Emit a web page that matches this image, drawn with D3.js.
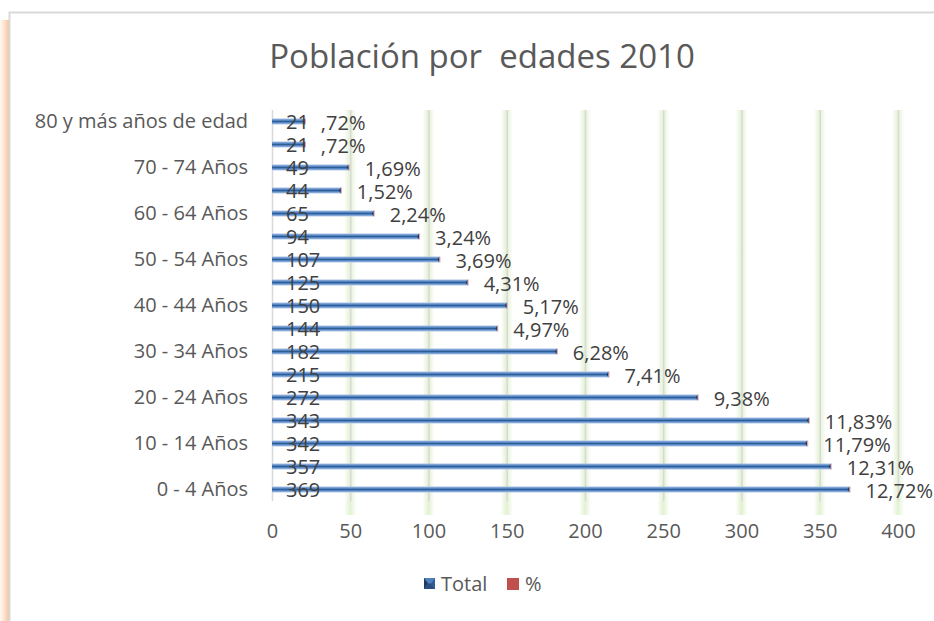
<html>
<head>
<meta http-equiv="Content-Type" content="text/html; charset=utf-8">
<title>Población por edades 2010</title>
<script src="https://cdnjs.cloudflare.com/ajax/libs/d3/7.8.5/d3.min.js"></script>
<style>
body, html{
  margin: 0;
  padding: 0;
  background: white;
  overflow: hidden;
}
text{
  font-family: "Open Sans", sans-serif;
  fill: #595959;
}
.axis text{
  font-size: 20px;
}
.lbl{
  font-size: 20px;
  fill: #404040;
}
</style>
</head>
<body>
<div id="chart"></div>
<script type="text/javascript">

// data, bottom row first
var categories = ["0 - 4 Años", "5 - 9 Años", "10 - 14 Años", "15 - 19 Años", "20 - 24 Años",
  "25 - 29 Años", "30 - 34 Años", "35 - 39 Años", "40 - 44 Años", "45 - 49 Años",
  "50 - 54 Años", "55 - 59 Años", "60 - 64 Años", "65 - 69 Años", "70 - 74 Años",
  "75 - 79 Años", "80 y más años de edad"]
var totals = [369, 357, 342, 343, 272, 215, 182, 144, 150, 125, 107, 94, 65, 44, 49, 21, 21]
var percents = [12.72, 12.31, 11.79, 11.83, 9.38, 7.41, 6.28, 4.97, 5.17, 4.31, 3.69, 3.24, 2.24, 1.52, 1.69, 0.72, 0.72]
var xTicks = [0, 50, 100, 150, 200, 250, 300, 350, 400]
var legendItems = ["Total", "%"]

var W = 934, H = 621
var svg = d3.select("#chart").append("svg")
  .attr("width", W)
  .attr("height", H)

var defs = svg.append("defs")

// orange glow on the left edge of the frame
var og = defs.append("linearGradient").attr("id", "orangeGlow")
og.append("stop").attr("offset", "0%").attr("stop-color", "#fde3cc").attr("stop-opacity", 0.3)
og.append("stop").attr("offset", "100%").attr("stop-color", "#f8b98a").attr("stop-opacity", 0.9)

var gg = defs.append("linearGradient").attr("id", "greenGlow")
gg.append("stop").attr("offset", "0%").attr("stop-color", "#c6e3a4").attr("stop-opacity", 0)
gg.append("stop").attr("offset", "50%").attr("stop-color", "#c6e3a4").attr("stop-opacity", 0.5)
gg.append("stop").attr("offset", "100%").attr("stop-color", "#c6e3a4").attr("stop-opacity", 0)

var bg = defs.append("linearGradient").attr("id", "barGrad")
  .attr("x1", 0).attr("y1", 0).attr("x2", 0).attr("y2", 1)
bg.append("stop").attr("offset", "0%").attr("stop-color", "#a9c1e3")
bg.append("stop").attr("offset", "30%").attr("stop-color", "#5b8bc9")
bg.append("stop").attr("offset", "50%").attr("stop-color", "#2f5d95")
bg.append("stop").attr("offset", "70%").attr("stop-color", "#5b8bc9")
bg.append("stop").attr("offset", "100%").attr("stop-color", "#b5cbe8")

// frame
svg.append("rect")
  .attr("x", 0).attr("y", 20).attr("width", 9).attr("height", H - 20)
  .style("fill", "url(#orangeGlow)")
svg.append("path")
  .attr("d", "M9.5," + H + "V12.5H" + W)
  .style("fill", "none")
  .style("stroke", "#d9d9d9")
  .style("stroke-width", 2)

// title
svg.append("text")
  .attr("x", 482)
  .attr("y", 68)
  .attr("text-anchor", "middle")
  .style("font-size", "33px")
  .style("white-space", "pre")
  .attr("xml:space", "preserve")
  .text("Población por  edades 2010")

var margin = {top: 110, bottom: 501, left: 272, right: 898}

var x = d3.scaleLinear().domain([0, 400]).range([margin.left, margin.right])
var y = d3.scaleBand()
  .domain(categories.slice().reverse())
  .range([margin.top, margin.bottom])

// gridlines with glow
var grid = svg.append("g")
grid.selectAll(".glow")
  .data(xTicks.slice(1))
  .enter().append("rect")
    .attr("x", function(d){ return x(d) - 6 })
    .attr("y", margin.top)
    .attr("width", 12)
    .attr("height", margin.bottom - margin.top + 14)
    .style("fill", "url(#greenGlow)")
grid.selectAll(".gl")
  .data(xTicks)
  .enter().append("line")
    .attr("x1", function(d){ return x(d) + 0.5 })
    .attr("x2", function(d){ return x(d) + 0.5 })
    .attr("y1", margin.top)
    .attr("y2", margin.bottom)
    .style("stroke", "#d9d9d9")
    .style("stroke-width", 1.5)

// x axis labels
var xAxis = svg.append("g")
  .attr("class", "axis")
  .attr("transform", "translate(0," + (margin.bottom + 22) + ")")
  .call(d3.axisBottom(x).tickValues(xTicks).tickSize(0).tickPadding(0))
xAxis.select(".domain").remove()
xAxis.selectAll("text").attr("dy", "0.75em")

// y axis labels, every other category
var yAxis = svg.append("g")
  .attr("class", "axis")
  .attr("transform", "translate(" + (margin.left - 24) + ",0)")
  .call(d3.axisLeft(y)
    .tickValues(categories.filter(function(d, i){ return i % 2 == 0 }))
    .tickSize(0).tickPadding(0))
yAxis.select(".domain").remove()
yAxis.selectAll("text").attr("dy", "0.3em")

var rows = categories.map(function(c, i){
  return {cat: c, total: totals[i], pct: percents[i]}
})

var bh = 6
var bars = svg.append("g")
bars.selectAll(".bar")
  .data(rows)
  .enter().append("rect")
    .attr("x", x(0))
    .attr("y", function(d){ return y(d.cat) + y.bandwidth() / 2 - bh / 2 })
    .attr("width", function(d){ return x(d.total) - x(0) })
    .attr("height", bh)
    .style("fill", "url(#barGrad)")
// bevel end caps
bars.selectAll(".cap")
  .data(rows)
  .enter().append("path")
    .attr("d", function(d){
      var ex = x(d.total), cy = y(d.cat) + y.bandwidth() / 2
      return "M" + (ex - 2) + "," + cy + "L" + ex + "," + (cy - bh / 2) + "L" + ex + "," + (cy + bh / 2) + "Z"
    })
    .style("fill", "#1f3a60")
bars.selectAll(".red")
  .data(rows)
  .enter().append("rect")
    .attr("x", function(d){ return x(d.total) })
    .attr("y", function(d){ return y(d.cat) + y.bandwidth() / 2 - bh / 2 })
    .attr("width", 1)
    .attr("height", bh)
    .style("fill", "#e6a3a1")

// value labels
function fmtPct(v){
  var s = v.toFixed(2).replace(".", ",")
  if (s.indexOf("0,") == 0) s = s.slice(1)
  return s + "%"
}
var labels = svg.append("g")
labels.selectAll(".tl")
  .data(rows)
  .enter().append("text")
    .attr("class", "lbl")
    .attr("x", x(0) + 14)
    .attr("y", function(d){ return y(d.cat) + y.bandwidth() / 2 })
    .attr("dy", "0.36em")
    .text(function(d){ return d.total })
labels.selectAll(".pl")
  .data(rows)
  .enter().append("text")
    .attr("class", "lbl")
    .attr("x", function(d){ return x(d.total) + 16 })
    .attr("y", function(d){ return y(d.cat) + y.bandwidth() / 2 + 1 })
    .attr("dy", "0.36em")
    .text(function(d){ return fmtPct(d.pct) })

// legend
var legend = svg.append("g").attr("transform", "translate(424,578)")
legend.append("rect").attr("x", 0).attr("y", 0).attr("width", 11).attr("height", 11)
  .style("fill", "#4f81bd")
legend.append("path").attr("d", "M0,0L4,5.5L0,11Z").style("fill", "#1f3a60")
legend.append("path").attr("d", "M11,0L7,5.5L11,11Z").style("fill", "#2f5d95")
legend.append("path").attr("d", "M0,11L4,5.5L7,5.5L11,11Z").style("fill", "#2a4f80")
legend.append("text").attr("x", 17).attr("y", 5.5).attr("dy", "0.36em")
  .style("font-size", "20px").text(legendItems[0])
legend.append("rect").attr("x", 83).attr("y", 0).attr("width", 12).attr("height", 12)
  .style("fill", "#c0504d")
legend.append("text").attr("x", 101).attr("y", 5.5).attr("dy", "0.36em")
  .style("font-size", "20px").text(legendItems[1])

</script>
</body>
</html>
